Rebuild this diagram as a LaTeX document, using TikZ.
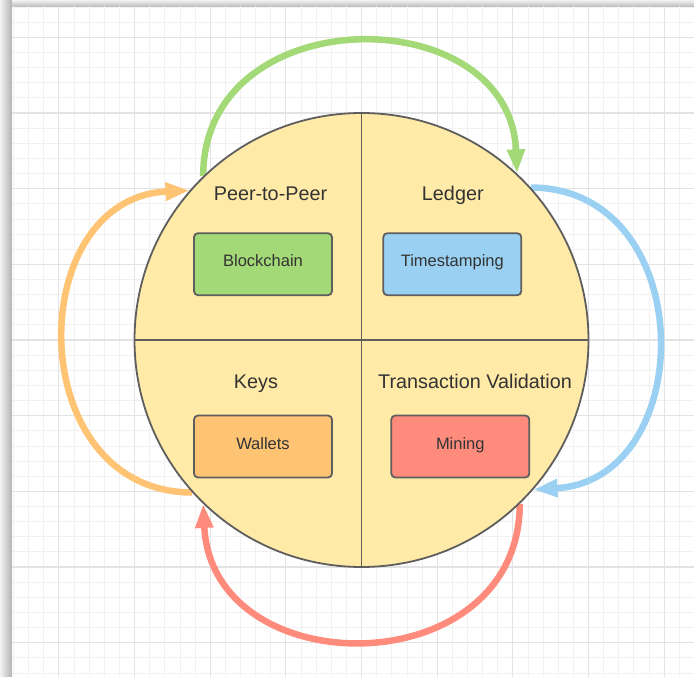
\documentclass[tikz,border=0pt]{standalone}
\usepackage{fontspec}
\setmainfont{Liberation Sans}
\usetikzlibrary{arrows.meta}
\definecolor{gridminor}{HTML}{F1F1F1}
\definecolor{gridmajor}{HTML}{E3E3E3}
\definecolor{strokegray}{HTML}{5E5E5E}
\definecolor{wheelfill}{HTML}{FFEAA7}
\definecolor{textgray}{HTML}{333333}
\definecolor{cgreen}{HTML}{A3D977}
\definecolor{cblue}{HTML}{9AD0F2}
\definecolor{corange}{HTML}{FFC374}
\definecolor{cred}{HTML}{FF8B7C}
\pgfdeclarelayer{gridlayer}
\pgfdeclarelayer{arrowlayer}
\pgfsetlayers{gridlayer,arrowlayer,main}
\tikzset{
  minorline/.style={draw=gridminor, line width=0.8pt},
  majorline/.style={draw=gridmajor, line width=1.1pt},
  wheel/.style={circle, draw=strokegray, fill=wheelfill, line width=1.8pt, minimum size=454pt, inner sep=0pt},
  divider/.style={draw=strokegray, line width=1.8pt},
  box/.style={rectangle, rounded corners=4pt, draw=strokegray, line width=1.8pt, minimum width=138pt, minimum height=62pt, inner sep=0pt, font=\fontsize{16.5}{18}\selectfont, text=textgray, text height=0.75em, text depth=0.25em},
  title/.style={anchor=base, font=\fontsize{19.8}{22}\selectfont, text=textgray, inner sep=0pt},
  flow/.style={line width=6.5pt, -{Triangle[length=24pt,width=17pt]}},
}
\begin{document}
\begin{tikzpicture}[x=1pt,y=-1pt]
\useasboundingbox (0,0) rectangle (694,677);
\begin{pgfonlayer}{gridlayer}
  \fill[white] (0,0) rectangle (694,677);
  \shade[left color=gray!10, right color=gray!60] (0,0) rectangle (12,677);
  \shade[top color=gray!10, bottom color=gray!55] (12,0) rectangle (694,7);
  \fill[white] (12,7) rectangle (694,677);
  \begin{scope}
    \clip (12,7) rectangle (694,677);
    \foreach \k in {-24,...,23} {
      \draw[minorline] ({361.5+\k*15.133},0) -- ({361.5+\k*15.133},677);
      \draw[minorline] (0,{340+\k*15.133}) -- (694,{340+\k*15.133});
    }
    \foreach \m in {-5,...,5} {
      \draw[majorline] ({361.5+\m*75.667},0) -- ({361.5+\m*75.667},677);
      \draw[majorline] (0,{340+\m*75.667}) -- (694,{340+\m*75.667});
    }
  \end{scope}
\end{pgfonlayer}

\node[wheel] (C) at (361.5,340) {};
\draw[divider] (C.north) -- (C.south);
\draw[divider] (C.west) -- (C.east);

\node[box, fill=cgreen] (b1) at (263,264.2) {Blockchain};
\node[box, fill=cblue] (b2) at (452.3,264.2) {Timestamping};
\node[box, fill=corange] (b3) at (263,446.5) {Wallets};
\node[box, fill=cred] (b4) at (460.3,446.5) {Mining};

\node[title] (t1) at (270.5,200.7) {Peer-to-Peer};
\node[title] (t2) at (452.8,200.7) {Ledger};
\node[title] (t3) at (256,388) {Keys};
\node[title] (t4) at (475,388) {Transaction Validation};

\begin{pgfonlayer}{arrowlayer}
  \draw[flow, cgreen] (C.134) .. controls (203,-2) and (510,-2) .. (C.47);
  \draw[flow, cblue] (C.42) .. controls (700,188) and (700,480) .. (C.-41);
  \draw[flow, cred] (C.-46) .. controls (519,686) and (212,686) .. (C.-134);
  \draw[flow, corange] (C.-138.5) .. controls (22,492) and (22,198) .. (C.139);
\end{pgfonlayer}
\end{tikzpicture}
\end{document}
